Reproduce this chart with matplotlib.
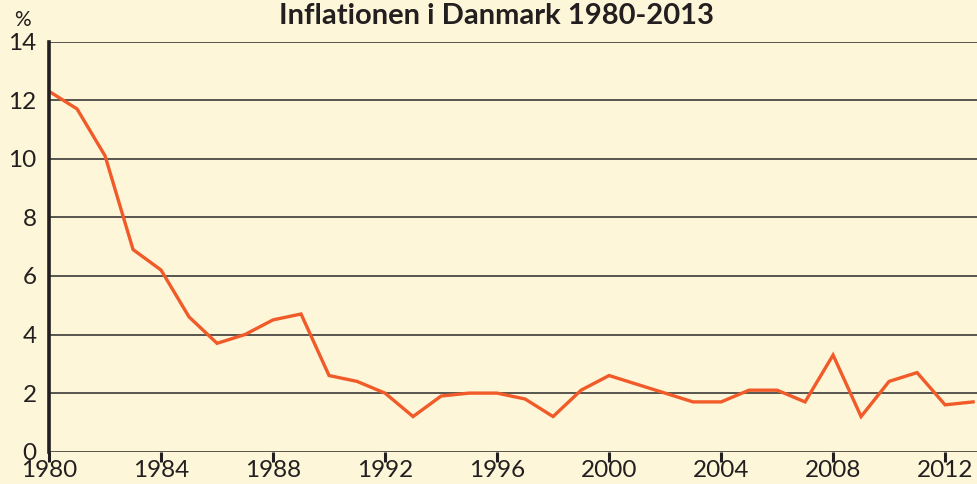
import matplotlib.pyplot as plt
import numpy as np

plt.rcParams['font.family'] = ['Lato', 'DejaVu Sans']

years = np.arange(1980, 2014)
inflation = [12.3, 11.7, 10.1, 6.9, 6.2, 4.6, 3.7, 4.0, 4.5, 4.7,
             2.6, 2.4, 2.0, 1.2, 1.9, 2.0, 2.0, 1.8, 1.2, 2.1,
             2.6, 2.3, 2.0, 1.7, 1.7, 2.1, 2.1, 1.7, 3.3, 1.2,
             2.4, 2.7, 1.6, 1.7]
xticks = np.arange(1980, 2013, 4)
yticks = np.arange(0, 15, 2)

bg = '#FEF6D8'
fig = plt.figure(figsize=(9.77, 4.84), dpi=100, facecolor=bg)
ax = fig.add_axes([0.0502, 0.0667, 0.9498, 0.8475], facecolor=bg)

for y in yticks:
    ax.axhline(y, color='#2a2a2a', lw=1.1, zorder=1)

ax.plot(years, inflation, color='#F15A29', lw=2.4, zorder=3,
        solid_joinstyle='miter')

ax.set_xlim(1980, 2013.14)
ax.set_ylim(0, 14)
ax.set_xticks(xticks)
ax.set_yticks(yticks)
ax.tick_params(axis='x', direction='out', length=7, width=2.2,
               color='#231f20', labelsize=17.5, pad=-1, labelcolor='#231f20')
ax.tick_params(axis='y', length=0, labelsize=17.5, pad=9,
               labelcolor='#231f20')
for s in ['top', 'right', 'bottom']:
    ax.spines[s].set_visible(False)
ax.spines['left'].set_linewidth(2.6)
ax.spines['left'].set_color('#231f20')
ax.spines['left'].set_zorder(4)

fig.text(0.508, 0.966, 'Inflationen i Danmark 1980-2013', ha='center',
         va='center', fontsize=21, fontweight='bold', color='#231f20')
fig.text(0.023, 0.958, '%', ha='center', va='center', fontsize=15,
         color='#231f20')

fig.savefig('out.png', dpi=100, facecolor=bg)
